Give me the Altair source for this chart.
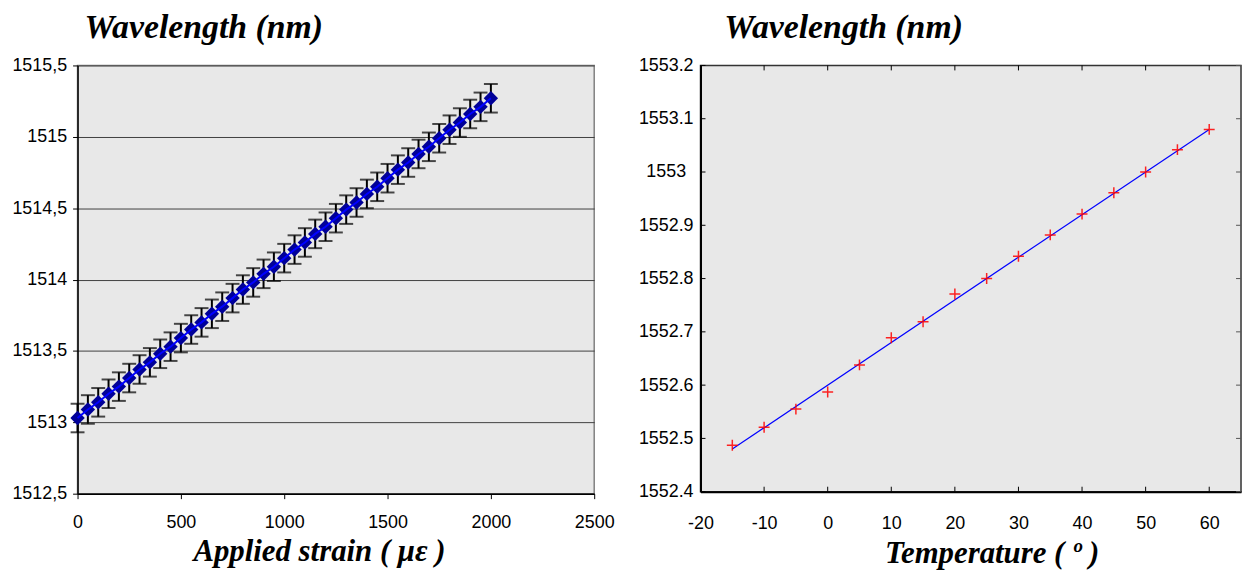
import altair as alt
import pandas as pd

# ---------------- data: left panel (strain) ----------------
strain = [0, 50, 100, 150, 200, 250, 300, 350, 400, 450, 500, 550, 600, 650, 700,
          750, 800, 850, 900, 950, 1000, 1050, 1100, 1150, 1200, 1250, 1300, 1350,
          1400, 1450, 1500, 1550, 1600, 1650, 1700, 1750, 1800, 1850, 1900, 1950, 2000]
wl_strain = [1513.03, 1513.09, 1513.14, 1513.20, 1513.25, 1513.31, 1513.37, 1513.42,
             1513.48, 1513.53, 1513.59, 1513.65, 1513.70, 1513.76, 1513.81, 1513.87,
             1513.93, 1513.98, 1514.04, 1514.09, 1514.15, 1514.21, 1514.26, 1514.32,
             1514.37, 1514.43, 1514.49, 1514.54, 1514.60, 1514.65, 1514.71, 1514.77,
             1514.82, 1514.88, 1514.93, 1514.99, 1515.05, 1515.10, 1515.16, 1515.21,
             1515.27]
err_strain = [0.1] * len(strain)

left_x_ticks = [0, 500, 1000, 1500, 2000, 2500]
left_y_ticks = [1512.5, 1513, 1513.5, 1514, 1514.5, 1515, 1515.5]

# ---------------- data: right panel (temperature) ----------------
temp = [-15, -10, -5, 0, 5, 10, 15, 20, 25, 30, 35, 40, 45, 50, 55, 60]
wl_temp = [1552.487, 1552.521, 1552.555, 1552.587, 1552.638, 1552.689, 1552.719,
           1552.771, 1552.800, 1552.842, 1552.882, 1552.921, 1552.961, 1553.000,
           1553.042, 1553.080]
fit_temp = [-15, 60]
fit_wl = [1552.48, 1553.08]

right_x_ticks = [-20, -10, 0, 10, 20, 30, 40, 50, 60]
right_y_ticks = [1552.4, 1552.5, 1552.6, 1552.7, 1552.8, 1552.9, 1553.0, 1553.1, 1553.2]

LW, LH = 520, 431
RW, RH = 544, 429

SANS = "Liberation Sans"
SERIF = "Liberation Serif"

# ---------------- left chart ----------------
df_s = pd.DataFrame({"strain": strain, "wl": wl_strain, "err": err_strain})
df_s["lo"] = df_s["wl"] - df_s["err"]
df_s["hi"] = df_s["wl"] + df_s["err"]

lx_axis = alt.Axis(values=left_x_ticks, title="Applied strain ( με )", grid=False,
                   labelExpr="toString(datum.value)", labelFont=SANS, labelFontSize=18,
                   labelColor="black", labelPadding=15, labelFlush=False,
                   tickSize=5, tickColor="black",
                   domainColor="black", domainWidth=1.5,
                   titleFont=SERIF, titleFontSize=31, titleFontStyle="italic",
                   titleFontWeight="bold", titleColor="black", titleX=243, titleY=67,
                   titleBaseline="alphabetic", titleAlign="center")
ly_axis = alt.Axis(values=left_y_ticks, title=None, grid=True, gridColor="#404040",
                   gridWidth=1, gridOpacity=1,
                   labelExpr="replace(toString(datum.value), '.', ',')",
                   labelFont=SANS, labelFontSize=18, labelColor="black", labelPadding=6,
                   labelFlush=False,
                   tickSize=5, tickColor="black", domainColor="black", domainWidth=1.5)
lx_scale = alt.Scale(domain=[0, 2500], nice=False, zero=False)
ly_scale = alt.Scale(domain=[1512.5, 1515.5], nice=False, zero=False)


def LX(field):
    return alt.X(f"{field}:Q", scale=lx_scale, axis=lx_axis)


def LY(field):
    return alt.Y(f"{field}:Q", scale=ly_scale, axis=ly_axis)


lbase = alt.Chart(df_s)
l_err = lbase.mark_rule(color="black", strokeWidth=2).encode(
    x=LX("strain"), y=LY("lo"), y2="hi")
l_cap_lo = lbase.mark_tick(color="black", orient="horizontal", size=14, thickness=2).encode(
    x=LX("strain"), y=LY("lo"))
l_cap_hi = lbase.mark_tick(color="black", orient="horizontal", size=14, thickness=2).encode(
    x=LX("strain"), y=LY("hi"))
l_pts = lbase.mark_point(shape="diamond", filled=True, color="#000099", size=210,
                         opacity=1, strokeWidth=0).encode(x=LX("strain"), y=LY("wl"))
l_line = lbase.mark_line(color="#0000FF", strokeWidth=2).encode(x=LX("strain"), y=LY("wl"))

left = alt.layer(l_err, l_cap_lo, l_cap_hi, l_pts, l_line).properties(
    width=LW, height=LH,
    view=alt.ViewBackground(fill="#e8e8e8", stroke="#808080", strokeWidth=1.5),
    title=alt.TitleParams(text="Wavelength (nm)", anchor="start", frame="group",
                          font=SERIF, fontSize=34, fontStyle="italic", fontWeight="bold",
                          color="black", dx=7, offset=12),
)

# ---------------- right chart ----------------
df_t = pd.DataFrame({"temp": temp, "wl": wl_temp})
df_fit = pd.DataFrame({"temp": fit_temp, "wl": fit_wl})
df_xt = pd.DataFrame({"tx": right_x_ticks})
df_yt = pd.DataFrame({"ty": right_y_ticks})

rx_axis = alt.Axis(values=right_x_ticks, title="Temperature ( º )", grid=False,
                   labelExpr="toString(datum.value)", labelFont=SANS, labelFontSize=18,
                   labelColor="black", labelPadding=23, labelFlush=False,
                   ticks=False, tickSize=0,
                   domainColor="black", domainWidth=2,
                   titleFont=SERIF, titleFontSize=31, titleFontStyle="italic",
                   titleFontWeight="bold", titleColor="black", titleX=293, titleY=71,
                   titleBaseline="alphabetic", titleAlign="center")
ry_axis = alt.Axis(values=right_y_ticks, title=None, grid=False,
                   labelExpr="toString(datum.value)", labelFont=SANS, labelFontSize=18,
                   labelColor="black", labelPadding=35, labelAlign="center",
                   labelFlush=False,
                   ticks=False, tickSize=0, domainColor="black", domainWidth=2)
rx_scale = alt.Scale(domain=[-20, 65], nice=False, zero=False)
ry_scale = alt.Scale(domain=[1552.4, 1553.2], nice=False, zero=False)


def RX(field):
    return alt.X(f"{field}:Q", scale=rx_scale, axis=rx_axis)


def RY(field):
    return alt.Y(f"{field}:Q", scale=ry_scale, axis=ry_axis)


r_fit = alt.Chart(df_fit).mark_line(color="#0000FF", strokeWidth=1.2).encode(
    x=RX("temp"), y=RY("wl"))
r_pts = alt.Chart(df_t).mark_point(shape="M-1,0L1,0M0,-1L0,1", size=121, filled=False,
                                   color="#FF0000", strokeWidth=1.5, opacity=0.85).encode(
    x=RX("temp"), y=RY("wl"))
tick_bottom = alt.Chart(df_xt).mark_rule(color="black", strokeWidth=1).encode(
    x=RX("tx"), y=alt.value(RH), y2=alt.value(RH - 5))
tick_top = alt.Chart(df_xt).mark_rule(color="black", strokeWidth=1).encode(
    x=RX("tx"), y=alt.value(0), y2=alt.value(5))
tick_left = alt.Chart(df_yt).mark_rule(color="black", strokeWidth=1).encode(
    y=RY("ty"), x=alt.value(0), x2=alt.value(5))
tick_right = alt.Chart(df_yt).mark_rule(color="#555555", strokeWidth=1).encode(
    y=RY("ty"), x=alt.value(RW), x2=alt.value(RW - 5))

right = alt.layer(r_fit, r_pts, tick_bottom, tick_top, tick_left, tick_right).properties(
    width=RW, height=RH,
    view=alt.ViewBackground(fill="#e8e8e8", stroke="#333333", strokeWidth=1.5),
    title=alt.TitleParams(text="Wavelength (nm)", anchor="start", frame="group",
                          font=SERIF, fontSize=34, fontStyle="italic", fontWeight="bold",
                          color="black", dx=24, offset=12),
)

chart = alt.hconcat(left, right, spacing=22).properties(
    padding={"left": 3, "top": 0, "right": 0, "bottom": 0},
    background="white",
).configure_view(strokeWidth=1.5)

chart.save("out.html", embed_options={"renderer": "svg", "actions": False})
